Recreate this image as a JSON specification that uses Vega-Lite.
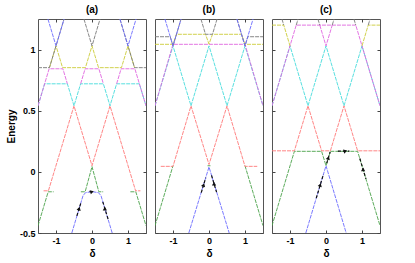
{
"$schema":"https://vega.github.io/schema/vega-lite/v6.json",
"padding":{"left":5,"top":4,"right":5,"bottom":5},
"config":{"view":{"stroke":"#555","strokeWidth":1},
"axis":{"labelFont":"Liberation Sans","labelFontWeight":"bold","labelFontSize":9,"titleFont":"Liberation Sans","titleFontWeight":"bold","titleFontSize":10,"tickSize":-3,"labelPadding":6,"domain":false,"grid":false,"tickColor":"#444","labelColor":"#000","titleColor":"#000","titlePadding":3},
"title":{"font":"Liberation Sans","fontSize":10,"fontWeight":"bold","offset":4,"anchor":"middle"},
"concat":{"spacing":7}},
"datasets":{"d":[
{"p":"a","b":"1","s":1,"i":0,"x":-0.561,"y":-0.5},{"p":"a","b":"1","s":1,"i":1,"x":-0.25,"y":-0.195},{"p":"a","b":"1","s":1,"i":2,"x":-0.18,"y":-0.17},{"p":"a","b":"1","s":1,"i":3,"x":0,"y":-0.162},{"p":"a","b":"1","s":1,"i":4,"x":0.18,"y":-0.17},{"p":"a","b":"1","s":1,"i":5,"x":0.25,"y":-0.195},{"p":"a","b":"1","s":1,"i":6,"x":0.561,"y":-0.5},
{"p":"a","b":"8","s":1,"i":0,"x":-1.224,"y":1.25},{"p":"a","b":"8","s":1,"i":1,"x":-1,"y":1.03},{"p":"a","b":"8","s":1,"i":2,"x":-0.776,"y":1.25},
{"p":"a","b":"8","s":2,"i":0,"x":0.776,"y":1.25},{"p":"a","b":"8","s":2,"i":1,"x":1,"y":1.03},{"p":"a","b":"8","s":2,"i":2,"x":1.224,"y":1.25},
{"p":"a","b":"2","s":1,"i":0,"x":-1.5,"y":-0.44},{"p":"a","b":"2","s":1,"i":1,"x":-1.217,"y":-0.163},{"p":"a","b":"2","s":1,"i":2,"x":-1.066,"y":-0.163},
{"p":"a","b":"2","s":2,"i":0,"x":-0.31,"y":-0.163},{"p":"a","b":"2","s":2,"i":1,"x":-0.19,"y":-0.163},{"p":"a","b":"2","s":2,"i":2,"x":0,"y":0.043},{"p":"a","b":"2","s":2,"i":3,"x":0.19,"y":-0.163},{"p":"a","b":"2","s":2,"i":4,"x":0.31,"y":-0.163},
{"p":"a","b":"2","s":3,"i":0,"x":1.066,"y":-0.163},{"p":"a","b":"2","s":3,"i":1,"x":1.217,"y":-0.163},{"p":"a","b":"2","s":3,"i":2,"x":1.5,"y":-0.44},
{"p":"a","b":"3","s":1,"i":0,"x":-1.345,"y":-0.155},{"p":"a","b":"3","s":1,"i":1,"x":-1.211,"y":-0.155},{"p":"a","b":"3","s":1,"i":2,"x":-0.5,"y":0.54},{"p":"a","b":"3","s":1,"i":3,"x":0,"y":0.05},{"p":"a","b":"3","s":1,"i":4,"x":0.5,"y":0.54},{"p":"a","b":"3","s":1,"i":5,"x":1.211,"y":-0.155},{"p":"a","b":"3","s":1,"i":6,"x":1.345,"y":-0.155},
{"p":"a","b":"4","s":1,"i":0,"x":-1.5,"y":0.54},{"p":"a","b":"4","s":1,"i":1,"x":-1.316,"y":0.72},{"p":"a","b":"4","s":1,"i":2,"x":-0.684,"y":0.72},{"p":"a","b":"4","s":1,"i":3,"x":-0.5,"y":0.54},{"p":"a","b":"4","s":1,"i":4,"x":-0.316,"y":0.72},{"p":"a","b":"4","s":1,"i":5,"x":0.316,"y":0.72},{"p":"a","b":"4","s":1,"i":6,"x":0.5,"y":0.54},{"p":"a","b":"4","s":1,"i":7,"x":0.684,"y":0.72},{"p":"a","b":"4","s":1,"i":8,"x":1.316,"y":0.72},{"p":"a","b":"4","s":1,"i":9,"x":1.5,"y":0.54},
{"p":"a","b":"5","s":1,"i":0,"x":-1.5,"y":0.54},{"p":"a","b":"5","s":1,"i":1,"x":-1.191,"y":0.843},{"p":"a","b":"5","s":1,"i":2,"x":-0.809,"y":0.843},{"p":"a","b":"5","s":1,"i":3,"x":-0.684,"y":0.72},
{"p":"a","b":"5","s":2,"i":0,"x":-0.316,"y":0.72},{"p":"a","b":"5","s":2,"i":1,"x":-0.191,"y":0.843},{"p":"a","b":"5","s":2,"i":2,"x":0.191,"y":0.843},{"p":"a","b":"5","s":2,"i":3,"x":0.316,"y":0.72},
{"p":"a","b":"5","s":3,"i":0,"x":0.684,"y":0.72},{"p":"a","b":"5","s":3,"i":1,"x":0.809,"y":0.843},{"p":"a","b":"5","s":3,"i":2,"x":1.191,"y":0.843},{"p":"a","b":"5","s":3,"i":3,"x":1.5,"y":0.54},
{"p":"a","b":"6","s":1,"i":0,"x":-1.182,"y":0.852},{"p":"a","b":"6","s":1,"i":1,"x":-1,"y":1.03},{"p":"a","b":"6","s":1,"i":2,"x":-0.818,"y":0.852},{"p":"a","b":"6","s":1,"i":3,"x":-0.182,"y":0.852},{"p":"a","b":"6","s":1,"i":4,"x":0,"y":1.03},{"p":"a","b":"6","s":1,"i":5,"x":0.182,"y":0.852},{"p":"a","b":"6","s":1,"i":6,"x":0.818,"y":0.852},{"p":"a","b":"6","s":1,"i":7,"x":1,"y":1.03},{"p":"a","b":"6","s":1,"i":8,"x":1.182,"y":0.852},
{"p":"a","b":"7","s":1,"i":0,"x":-1.5,"y":0.852},{"p":"a","b":"7","s":1,"i":1,"x":-1.182,"y":0.852},{"p":"a","b":"7","s":1,"i":2,"x":-1,"y":1.03},{"p":"a","b":"7","s":1,"i":3,"x":-0.776,"y":1.25},
{"p":"a","b":"7","s":2,"i":0,"x":-0.224,"y":1.25},{"p":"a","b":"7","s":2,"i":1,"x":0,"y":1.03},{"p":"a","b":"7","s":2,"i":2,"x":0.224,"y":1.25},
{"p":"a","b":"7","s":3,"i":0,"x":0.776,"y":1.25},{"p":"a","b":"7","s":3,"i":1,"x":1,"y":1.03},{"p":"a","b":"7","s":3,"i":2,"x":1.182,"y":0.852},{"p":"a","b":"7","s":3,"i":3,"x":1.5,"y":0.852},
{"p":"a","b":"p","s":1,"i":0,"x":-0.42,"y":-0.36},{"p":"a","b":"p","s":1,"i":1,"x":-0.3,"y":-0.245},
{"p":"a","b":"p","s":2,"i":0,"x":-0.07,"y":-0.162},{"p":"a","b":"p","s":2,"i":1,"x":0.07,"y":-0.162},
{"p":"a","b":"p","s":3,"i":0,"x":0.3,"y":-0.245},{"p":"a","b":"p","s":3,"i":1,"x":0.45,"y":-0.39},
{"p":"a","b":"h","s":1,"i":0,"x":-0.357,"y":-0.3,"d":"up"},{"p":"a","b":"h","s":2,"i":0,"x":0,"y":-0.162,"d":"right"},{"p":"a","b":"h","s":3,"i":0,"x":0.357,"y":-0.3,"d":"down"},

{"p":"b","b":"1","s":1,"i":0,"x":-0.561,"y":-0.5},{"p":"b","b":"1","s":1,"i":1,"x":0,"y":0.04},{"p":"b","b":"1","s":1,"i":2,"x":0.561,"y":-0.5},
{"p":"b","b":"8","s":1,"i":0,"x":-1.224,"y":1.25},{"p":"b","b":"8","s":1,"i":1,"x":-1,"y":1.03},{"p":"b","b":"8","s":1,"i":2,"x":-0.776,"y":1.25},
{"p":"b","b":"8","s":2,"i":0,"x":0.776,"y":1.25},{"p":"b","b":"8","s":2,"i":1,"x":1,"y":1.03},{"p":"b","b":"8","s":2,"i":2,"x":1.224,"y":1.25},
{"p":"b","b":"2","s":1,"i":0,"x":-1.5,"y":-0.44},{"p":"b","b":"2","s":1,"i":1,"x":-1,"y":0.05},
{"p":"b","b":"2","s":2,"i":0,"x":-0.04,"y":0.05},{"p":"b","b":"2","s":2,"i":1,"x":0.04,"y":0.05},
{"p":"b","b":"2","s":3,"i":0,"x":1,"y":0.05},{"p":"b","b":"2","s":3,"i":1,"x":1.5,"y":-0.44},
{"p":"b","b":"3","s":1,"i":0,"x":-1.34,"y":0.045},{"p":"b","b":"3","s":1,"i":1,"x":-1,"y":0.045},{"p":"b","b":"3","s":1,"i":2,"x":-0.5,"y":0.54},{"p":"b","b":"3","s":1,"i":3,"x":0,"y":0.06},{"p":"b","b":"3","s":1,"i":4,"x":0.5,"y":0.54},{"p":"b","b":"3","s":1,"i":5,"x":1,"y":0.045},{"p":"b","b":"3","s":1,"i":6,"x":1.34,"y":0.045},
{"p":"b","b":"4","s":1,"i":0,"x":-1.5,"y":0.54},{"p":"b","b":"4","s":1,"i":1,"x":-1,"y":1.03},{"p":"b","b":"4","s":1,"i":2,"x":-0.5,"y":0.54},{"p":"b","b":"4","s":1,"i":3,"x":0,"y":1.03},{"p":"b","b":"4","s":1,"i":4,"x":0.5,"y":0.54},{"p":"b","b":"4","s":1,"i":5,"x":1,"y":1.03},{"p":"b","b":"4","s":1,"i":6,"x":1.5,"y":0.54},
{"p":"b","b":"5","s":1,"i":0,"x":-1.5,"y":0.54},{"p":"b","b":"5","s":1,"i":1,"x":-1,"y":1.043},{"p":"b","b":"5","s":1,"i":2,"x":1,"y":1.043},{"p":"b","b":"5","s":1,"i":3,"x":1.5,"y":0.54},
{"p":"b","b":"6","s":1,"i":0,"x":-1.5,"y":1.043},{"p":"b","b":"6","s":1,"i":1,"x":-1,"y":1.043},{"p":"b","b":"6","s":1,"i":2,"x":-0.903,"y":1.125},{"p":"b","b":"6","s":1,"i":3,"x":-0.097,"y":1.125},{"p":"b","b":"6","s":1,"i":4,"x":0,"y":1.045},{"p":"b","b":"6","s":1,"i":5,"x":0.097,"y":1.125},{"p":"b","b":"6","s":1,"i":6,"x":0.903,"y":1.125},{"p":"b","b":"6","s":1,"i":7,"x":1,"y":1.043},{"p":"b","b":"6","s":1,"i":8,"x":1.5,"y":1.043},
{"p":"b","b":"7","s":1,"i":0,"x":-1.5,"y":1.105},{"p":"b","b":"7","s":1,"i":1,"x":-1.077,"y":1.105},{"p":"b","b":"7","s":1,"i":2,"x":-1,"y":1.03},{"p":"b","b":"7","s":1,"i":3,"x":-0.776,"y":1.25},
{"p":"b","b":"7","s":2,"i":0,"x":-0.224,"y":1.25},{"p":"b","b":"7","s":2,"i":1,"x":-0.097,"y":1.125},{"p":"b","b":"7","s":2,"i":2,"x":0.097,"y":1.125},{"p":"b","b":"7","s":2,"i":3,"x":0.224,"y":1.25},
{"p":"b","b":"7","s":3,"i":0,"x":0.776,"y":1.25},{"p":"b","b":"7","s":3,"i":1,"x":1,"y":1.03},{"p":"b","b":"7","s":3,"i":2,"x":1.077,"y":1.105},{"p":"b","b":"7","s":3,"i":3,"x":1.5,"y":1.105},
{"p":"b","b":"p","s":1,"i":0,"x":-0.215,"y":-0.17},{"p":"b","b":"p","s":1,"i":1,"x":-0.09,"y":-0.048},
{"p":"b","b":"p","s":2,"i":0,"x":0.07,"y":-0.029},{"p":"b","b":"p","s":2,"i":1,"x":0.21,"y":-0.166},
{"p":"b","b":"h","s":1,"i":0,"x":-0.15,"y":-0.107,"d":"up"},{"p":"b","b":"h","s":2,"i":0,"x":0.14,"y":-0.097,"d":"down"},

{"p":"c","b":"1","s":1,"i":0,"x":-0.561,"y":-0.5},{"p":"c","b":"1","s":1,"i":1,"x":0,"y":0.05},{"p":"c","b":"1","s":1,"i":2,"x":0.561,"y":-0.5},
{"p":"c","b":"2","s":1,"i":0,"x":-1.5,"y":-0.44},{"p":"c","b":"2","s":1,"i":1,"x":-0.878,"y":0.168},{"p":"c","b":"2","s":1,"i":2,"x":-0.122,"y":0.168},{"p":"c","b":"2","s":1,"i":3,"x":0,"y":0.05},{"p":"c","b":"2","s":1,"i":4,"x":0.122,"y":0.168},{"p":"c","b":"2","s":1,"i":5,"x":0.878,"y":0.168},{"p":"c","b":"2","s":1,"i":6,"x":1.5,"y":-0.44},
{"p":"c","b":"3","s":1,"i":0,"x":-1.5,"y":0.172},{"p":"c","b":"3","s":1,"i":1,"x":-0.878,"y":0.172},{"p":"c","b":"3","s":1,"i":2,"x":-0.5,"y":0.54},{"p":"c","b":"3","s":1,"i":3,"x":-0.122,"y":0.172},{"p":"c","b":"3","s":1,"i":4,"x":0.122,"y":0.172},{"p":"c","b":"3","s":1,"i":5,"x":0.5,"y":0.54},{"p":"c","b":"3","s":1,"i":6,"x":0.878,"y":0.172},{"p":"c","b":"3","s":1,"i":7,"x":1.5,"y":0.172},
{"p":"c","b":"4","s":1,"i":0,"x":-1.5,"y":0.54},{"p":"c","b":"4","s":1,"i":1,"x":-1,"y":1.03},{"p":"c","b":"4","s":1,"i":2,"x":-0.5,"y":0.54},{"p":"c","b":"4","s":1,"i":3,"x":0,"y":1.03},{"p":"c","b":"4","s":1,"i":4,"x":0.5,"y":0.54},{"p":"c","b":"4","s":1,"i":5,"x":1,"y":1.03},{"p":"c","b":"4","s":1,"i":6,"x":1.5,"y":0.54},
{"p":"c","b":"5","s":1,"i":0,"x":-1.5,"y":0.54},{"p":"c","b":"5","s":1,"i":1,"x":-0.827,"y":1.2},{"p":"c","b":"5","s":1,"i":2,"x":0.827,"y":1.2},{"p":"c","b":"5","s":1,"i":3,"x":1.5,"y":0.54},
{"p":"c","b":"5","s":2,"i":0,"x":-0.173,"y":1.2},{"p":"c","b":"5","s":2,"i":1,"x":0,"y":1.03},{"p":"c","b":"5","s":2,"i":2,"x":0.173,"y":1.2},
{"p":"c","b":"6","s":1,"i":0,"x":-1.5,"y":1.2},{"p":"c","b":"6","s":1,"i":1,"x":-1.173,"y":1.2},{"p":"c","b":"6","s":1,"i":2,"x":-1,"y":1.03},
{"p":"c","b":"6","s":2,"i":0,"x":1,"y":1.03},{"p":"c","b":"6","s":2,"i":1,"x":1.173,"y":1.2},{"p":"c","b":"6","s":2,"i":2,"x":1.5,"y":1.2},
{"p":"c","b":"7","s":1,"i":0,"x":-1.224,"y":1.25},{"p":"c","b":"7","s":1,"i":1,"x":-1.173,"y":1.2},
{"p":"c","b":"7","s":2,"i":0,"x":-0.827,"y":1.2},{"p":"c","b":"7","s":2,"i":1,"x":-0.776,"y":1.25},
{"p":"c","b":"7","s":3,"i":0,"x":-0.224,"y":1.25},{"p":"c","b":"7","s":3,"i":1,"x":-0.173,"y":1.2},
{"p":"c","b":"7","s":4,"i":0,"x":0.173,"y":1.2},{"p":"c","b":"7","s":4,"i":1,"x":0.224,"y":1.25},
{"p":"c","b":"7","s":5,"i":0,"x":0.776,"y":1.25},{"p":"c","b":"7","s":5,"i":1,"x":0.827,"y":1.2},
{"p":"c","b":"7","s":6,"i":0,"x":1.173,"y":1.2},{"p":"c","b":"7","s":6,"i":1,"x":1.224,"y":1.25},
{"p":"c","b":"p","s":1,"i":0,"x":-0.27,"y":-0.215},{"p":"c","b":"p","s":1,"i":1,"x":-0.07,"y":-0.019},
{"p":"c","b":"p","s":2,"i":0,"x":0.02,"y":0.07},{"p":"c","b":"p","s":2,"i":1,"x":0.115,"y":0.163},
{"p":"c","b":"p","s":3,"i":0,"x":0.33,"y":0.17},{"p":"c","b":"p","s":3,"i":1,"x":0.65,"y":0.17},
{"p":"c","b":"p","s":4,"i":0,"x":0.94,"y":0.109},{"p":"c","b":"p","s":4,"i":1,"x":1.11,"y":-0.058},
{"p":"c","b":"h","s":1,"i":0,"x":-0.16,"y":-0.107,"d":"up"},{"p":"c","b":"h","s":2,"i":0,"x":0.065,"y":0.114,"d":"up"},{"p":"c","b":"h","s":3,"i":0,"x":0.54,"y":0.17,"d":"right"},{"p":"c","b":"h","s":4,"i":0,"x":1.03,"y":0.021,"d":"down"}
]},
"data":{"name":"d"},
"hconcat":[
{"width":108,"height":214,"title":"(a)","transform":[{"filter":"datum.p==='a'"}],"resolve":{"axis":{"x":"independent","y":"independent"}},
"layer":[
{"transform":[{"filter":"datum.b!=='8'&&datum.b!=='p'&&datum.b!=='h'"}],"mark":{"type":"line","strokeWidth":1,"strokeDash":[4,1],"opacity":0.9,"clip":true},
"encoding":{"x":{"field":"x","type":"quantitative","scale":{"domain":[-1.5,1.5],"nice":false,"zero":false},"axis":{"orient":"bottom","values":[-1,0,1],"title":"δ","labelExpr":"toString(datum.value)"}},
"y":{"field":"y","type":"quantitative","scale":{"domain":[-0.5,1.25],"nice":false,"zero":false},"axis":{"orient":"left","values":[-0.5,0,0.5,1],"title":"Energy","labelExpr":"toString(datum.value)"}},
"color":{"field":"b","type":"nominal","scale":{"domain":["1","2","3","4","5","6","7","8","p"],"range":["#6a6aff","#4aa24a","#ff7878","#46dcdc","#e066e0","#cccc3a","#7a7a7a","#6a6aff","#111111"]},"legend":null},
"detail":{"field":"s"},"order":{"field":"i"}}},
{"transform":[{"filter":"datum.b==='8'"}],"mark":{"type":"line","strokeWidth":1,"strokeDash":[4,1],"opacity":0.9,"clip":true},
"encoding":{"x":{"field":"x","type":"quantitative","axis":null},"y":{"field":"y","type":"quantitative","axis":null},"color":{"field":"b","type":"nominal","legend":null},"detail":{"field":"s"},"order":{"field":"i"}}},
{"transform":[{"filter":"datum.b==='p'"}],"mark":{"type":"line","strokeWidth":1.2,"strokeDash":[3,2],"clip":true},
"encoding":{"x":{"field":"x","type":"quantitative","axis":null},"y":{"field":"y","type":"quantitative","axis":null},"color":{"field":"b","type":"nominal","legend":null},"detail":{"field":"s"},"order":{"field":"i"}}},
{"transform":[{"filter":"datum.b==='h'"}],"mark":{"type":"point","filled":true,"size":18,"color":"#111","opacity":1},
"encoding":{"x":{"field":"x","type":"quantitative","axis":null},"y":{"field":"y","type":"quantitative","axis":null},
"shape":{"field":"d","type":"nominal","scale":{"domain":["up","down","right"],"range":["triangle-up","triangle-down","triangle-right"]},"legend":null},
"angle":{"field":"d","type":"nominal","scale":{"domain":["up","down","right"],"range":[17,343,0]},"legend":null}}},
{"transform":[{"filter":"datum.b==='h'"}],"mark":{"type":"point","opacity":0},
"encoding":{"x":{"field":"x","type":"quantitative","axis":{"orient":"top","values":[-1,0,1],"labels":false,"title":null}},"y":{"field":"y","type":"quantitative","axis":{"orient":"right","values":[-0.5,0,0.5,1],"labels":false,"title":null}}}}
]},
{"width":108,"height":214,"title":"(b)","transform":[{"filter":"datum.p==='b'"}],"resolve":{"axis":{"x":"independent","y":"independent"}},
"layer":[
{"transform":[{"filter":"datum.b!=='8'&&datum.b!=='p'&&datum.b!=='h'"}],"mark":{"type":"line","strokeWidth":1,"strokeDash":[4,1],"opacity":0.9,"clip":true},
"encoding":{"x":{"field":"x","type":"quantitative","scale":{"domain":[-1.5,1.5],"nice":false,"zero":false},"axis":{"orient":"bottom","values":[-1,0,1],"title":"δ","labelExpr":"toString(datum.value)"}},
"y":{"field":"y","type":"quantitative","scale":{"domain":[-0.5,1.25],"nice":false,"zero":false},"axis":{"orient":"left","values":[-0.5,0,0.5,1],"title":null,"labels":false}},
"color":{"field":"b","type":"nominal","scale":{"domain":["1","2","3","4","5","6","7","8","p"],"range":["#6a6aff","#4aa24a","#ff7878","#46dcdc","#e066e0","#cccc3a","#7a7a7a","#6a6aff","#111111"]},"legend":null},
"detail":{"field":"s"},"order":{"field":"i"}}},
{"transform":[{"filter":"datum.b==='8'"}],"mark":{"type":"line","strokeWidth":1,"strokeDash":[4,1],"opacity":0.9,"clip":true},
"encoding":{"x":{"field":"x","type":"quantitative","axis":null},"y":{"field":"y","type":"quantitative","axis":null},"color":{"field":"b","type":"nominal","legend":null},"detail":{"field":"s"},"order":{"field":"i"}}},
{"transform":[{"filter":"datum.b==='p'"}],"mark":{"type":"line","strokeWidth":1.2,"strokeDash":[3,2],"clip":true},
"encoding":{"x":{"field":"x","type":"quantitative","axis":null},"y":{"field":"y","type":"quantitative","axis":null},"color":{"field":"b","type":"nominal","legend":null},"detail":{"field":"s"},"order":{"field":"i"}}},
{"transform":[{"filter":"datum.b==='h'"}],"mark":{"type":"point","filled":true,"size":18,"color":"#111","opacity":1},
"encoding":{"x":{"field":"x","type":"quantitative","axis":null},"y":{"field":"y","type":"quantitative","axis":null},
"shape":{"field":"d","type":"nominal","scale":{"domain":["up","down","right"],"range":["triangle-up","triangle-down","triangle-right"]},"legend":null},
"angle":{"field":"d","type":"nominal","scale":{"domain":["up","down","right"],"range":[17,343,0]},"legend":null}}},
{"transform":[{"filter":"datum.b==='h'"}],"mark":{"type":"point","opacity":0},
"encoding":{"x":{"field":"x","type":"quantitative","axis":{"orient":"top","values":[-1,0,1],"labels":false,"title":null}},"y":{"field":"y","type":"quantitative","axis":{"orient":"right","values":[-0.5,0,0.5,1],"labels":false,"title":null}}}}
]},
{"width":108,"height":214,"title":"(c)","transform":[{"filter":"datum.p==='c'"}],"resolve":{"axis":{"x":"independent","y":"independent"}},
"layer":[
{"transform":[{"filter":"datum.b!=='8'&&datum.b!=='p'&&datum.b!=='h'"}],"mark":{"type":"line","strokeWidth":1,"strokeDash":[4,1],"opacity":0.9,"clip":true},
"encoding":{"x":{"field":"x","type":"quantitative","scale":{"domain":[-1.5,1.5],"nice":false,"zero":false},"axis":{"orient":"bottom","values":[-1,0,1],"title":"δ","labelExpr":"toString(datum.value)"}},
"y":{"field":"y","type":"quantitative","scale":{"domain":[-0.5,1.25],"nice":false,"zero":false},"axis":{"orient":"left","values":[-0.5,0,0.5,1],"title":null,"labels":false}},
"color":{"field":"b","type":"nominal","scale":{"domain":["1","2","3","4","5","6","7","8","p"],"range":["#6a6aff","#4aa24a","#ff7878","#46dcdc","#e066e0","#cccc3a","#7a7a7a","#6a6aff","#111111"]},"legend":null},
"detail":{"field":"s"},"order":{"field":"i"}}},
{"transform":[{"filter":"datum.b==='p'"}],"mark":{"type":"line","strokeWidth":1.2,"strokeDash":[3,2],"clip":true},
"encoding":{"x":{"field":"x","type":"quantitative","axis":null},"y":{"field":"y","type":"quantitative","axis":null},"color":{"field":"b","type":"nominal","legend":null},"detail":{"field":"s"},"order":{"field":"i"}}},
{"transform":[{"filter":"datum.b==='h'"}],"mark":{"type":"point","filled":true,"size":18,"color":"#111","opacity":1},
"encoding":{"x":{"field":"x","type":"quantitative","axis":null},"y":{"field":"y","type":"quantitative","axis":null},
"shape":{"field":"d","type":"nominal","scale":{"domain":["up","down","right"],"range":["triangle-up","triangle-down","triangle-right"]},"legend":null},
"angle":{"field":"d","type":"nominal","scale":{"domain":["up","down","right"],"range":[17,343,0]},"legend":null}}},
{"transform":[{"filter":"datum.b==='h'"}],"mark":{"type":"point","opacity":0},
"encoding":{"x":{"field":"x","type":"quantitative","axis":{"orient":"top","values":[-1,0,1],"labels":false,"title":null}},"y":{"field":"y","type":"quantitative","axis":{"orient":"right","values":[-0.5,0,0.5,1],"labels":false,"title":null}}}}
]}
]
}
